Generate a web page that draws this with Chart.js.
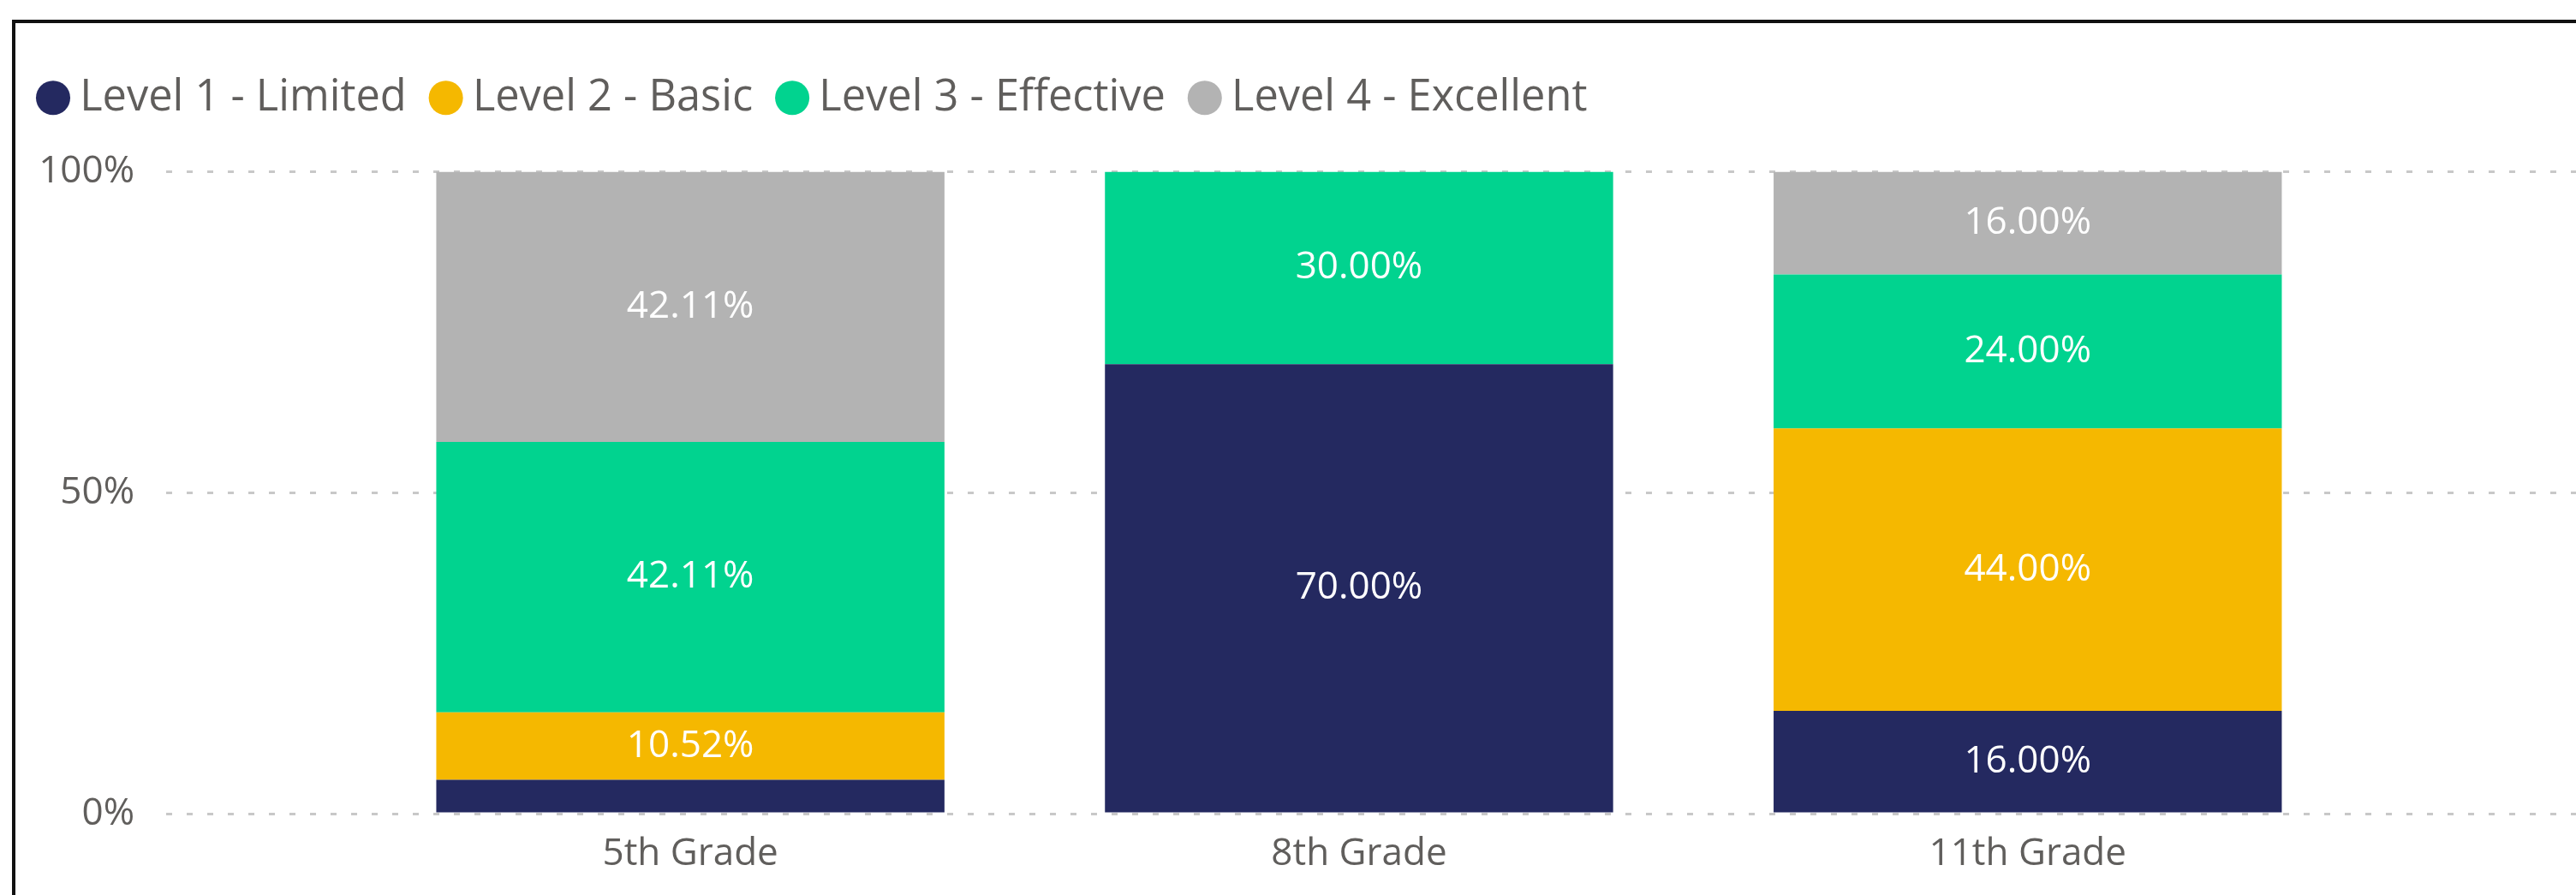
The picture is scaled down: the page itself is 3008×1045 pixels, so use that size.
<!DOCTYPE html>
<html>
<head>
<meta charset="utf-8">
<script src="https://cdn.jsdelivr.net/npm/chart.js@4.4.1/dist/chart.umd.min.js"></script>
<style>
    html, body { margin: 0; padding: 0; background: #fff; overflow: hidden; }
    #wrap { position: relative; width: 3008px; height: 1045px; }
    #marco { position: absolute; left: 14px; top: 23px; right: 0; bottom: 0; border-top: 4px solid #111; border-left: 4px solid #111; pointer-events: none; }
</style>
</head>
<body>
<div id="wrap"><canvas id="grafico"></canvas><div id="marco"></div></div>
<script>
// Datos
const grados = ['5th Grade', '8th Grade', '11th Grade'];
const nivel1 = [5.26, 70, 16];
const nivel2 = [10.52, 0, 44];
const nivel3 = [42.11, 30, 24];
const nivel4 = [42.11, 0, 16];
const nombres = ['Level 1 - Limited', 'Level 2 - Basic', 'Level 3 - Effective', 'Level 4 - Excellent'];
const colores = ['#242960', '#F5B800', '#01D38F', '#B3B3B3'];
const ticksY = [0, 50, 100];

const fuente = '"Open Sans", "Segoe UI", sans-serif';
const gris = '#605E5C';

// etiquetas blancas dentro de cada segmento
const etiquetas = {
    id: 'etiquetas',
    afterDatasetsDraw(chart) {
        const ctx = chart.ctx;
        ctx.save();
        ctx.fillStyle = '#fff';
        ctx.font = '44px ' + fuente;
        ctx.textAlign = 'center';
        ctx.textBaseline = 'middle';
        chart.data.datasets.forEach((ds, i) => {
            chart.getDatasetMeta(i).data.forEach((bar, j) => {
                const v = ds.data[j].y;
                if (!v || Math.abs(bar.base - bar.y) < 60) return; // no cabe
                ctx.fillText(v.toFixed(2) + '%', bar.x, (bar.y + bar.base) / 2);
            });
        });
        ctx.restore();
    }
};

// espacio extra bajo la leyenda
const espacioLeyenda = {
    id: 'espacioLeyenda',
    beforeInit(chart) {
        const fit = chart.legend.fit;
        chart.legend.fit = function () {
            fit.call(this);
            this.height += 51;
        };
    }
};

const series = [nivel1, nivel2, nivel3, nivel4];

new Chart(document.getElementById('grafico'), {
    type: 'bar',
    data: {
        datasets: series.map((s, i) => ({
            label: nombres[i],
            data: s.map((v, j) => ({ x: j, y: v })),
            backgroundColor: colores[i],
            borderWidth: 0,
            barPercentage: 0.76,
            categoryPercentage: 1
        }))
    },
    options: {
        responsive: true,
        maintainAspectRatio: false,
        animation: false,
        layout: { padding: { top: 49, left: 16, right: 0, bottom: 1 } },
        plugins: {
            tooltip: { enabled: false },
            legend: {
                position: 'top',
                align: 'start',
                labels: {
                    usePointStyle: true,
                    pointStyle: 'circle',
                    boxWidth: 12,
                    boxHeight: 28.3,
                    padding: 40,
                    color: gris,
                    font: { family: fuente, size: 50.5 }
                }
            }
        },
        scales: {
            x: {
                type: 'linear',
                min: -0.784,
                max: 2.82,
                offset: false,
                stacked: true,
                grid: { display: false, drawTicks: false },
                border: { display: false },
                afterBuildTicks: (s) => { s.ticks = grados.map((g, i) => ({ value: i })); },
                ticks: {
                    callback: (v) => grados[v],
                    autoSkip: false,
                    maxRotation: 0,
                    padding: 25,
                    color: gris,
                    font: { family: fuente, size: 44, lineHeight: 1 }
                }
            },
            y: {
                stacked: true,
                min: 0,
                max: 100,
                afterBuildTicks: (s) => { s.ticks = ticksY.map(v => ({ value: v })); },
                afterFit: (s) => { s.width = 178; },
                grid: { color: '#C8C8C8', lineWidth: 3, drawTicks: false },
                border: { display: false, dash: [7, 17] },
                ticks: {
                    callback: (v) => v + '%',
                    padding: 37,
                    color: gris,
                    font: { family: fuente, size: 44 }
                }
            }
        }
    },
    plugins: [etiquetas, espacioLeyenda]
});
</script>
</body>
</html>
